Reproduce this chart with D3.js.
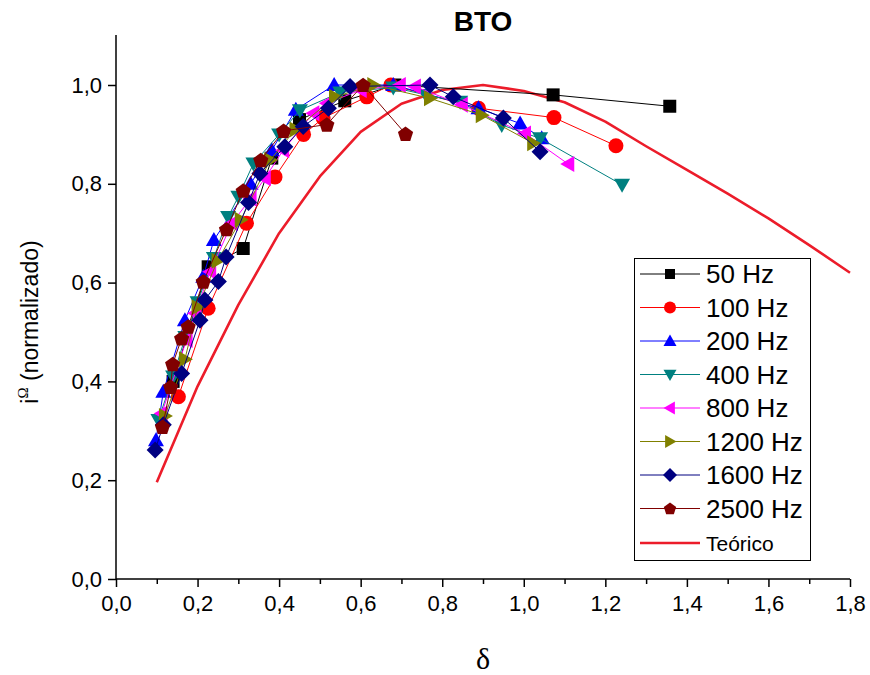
<!DOCTYPE html>
<html>
<head>
<meta charset="utf-8">
<script src="https://cdn.jsdelivr.net/npm/d3@7"></script>
<style>
  body { margin: 0; background: #fff; }
  svg { display: block; }
</style>
</head>
<body>
<svg id="chart" width="870" height="675"></svg>
<script>
// Measured series: [δ, normalised current]
const s50   = [[0.14,0.40],[0.226,0.632],[0.312,0.669],[0.382,0.852],[0.45,0.93],[0.561,0.968],[0.684,1.0],[1.072,0.98],[1.358,0.957]];
const s100  = [[0.153,0.369],[0.226,0.548],[0.32,0.72],[0.39,0.814],[0.46,0.90],[0.508,0.933],[0.615,0.976],[0.674,1.0],[0.889,0.953],[1.074,0.934],[1.226,0.877]];
const s200  = [[0.098,0.281],[0.116,0.379],[0.169,0.524],[0.214,0.612],[0.240,0.686],[0.33,0.80],[0.382,0.868],[0.441,0.950],[0.535,1.0],[0.68,1.0],[0.889,0.953],[0.991,0.922],[1.044,0.892]];
const s400  = [[0.104,0.322],[0.14,0.41],[0.17,0.49],[0.20,0.56],[0.24,0.65],[0.275,0.733],[0.30,0.774],[0.337,0.841],[0.40,0.90],[0.451,0.949],[0.55,0.985],[0.68,0.995],[0.76,0.98],[0.844,0.966],[0.946,0.919],[1.04,0.892],[1.241,0.798]];
const s800  = [[0.112,0.335],[0.173,0.484],[0.194,0.538],[0.231,0.622],[0.284,0.72],[0.33,0.77],[0.365,0.811],[0.41,0.868],[0.484,0.943],[0.517,0.963],[0.60,0.99],[0.696,1.0],[0.733,0.997],[0.848,0.96],[1.003,0.902],[1.109,0.84]];
const s1200 = [[0.12,0.33],[0.169,0.445],[0.20,0.55],[0.249,0.644],[0.306,0.727],[0.378,0.848],[0.44,0.91],[0.537,0.976],[0.631,1.0],[0.77,0.973],[0.897,0.939],[1.023,0.882]];
const s1600 = [[0.096,0.261],[0.116,0.312],[0.161,0.416],[0.206,0.524],[0.218,0.565],[0.251,0.602],[0.270,0.652],[0.325,0.762],[0.353,0.821],[0.414,0.875],[0.459,0.916],[0.521,0.953],[0.574,0.997],[0.77,1.0],[0.827,0.976],[0.95,0.933],[1.04,0.865]];
const s2500 = [[0.114,0.308],[0.134,0.389],[0.139,0.435],[0.161,0.487],[0.177,0.511],[0.214,0.602],[0.271,0.708],[0.312,0.786],[0.355,0.848],[0.411,0.907],[0.517,0.920],[0.606,1.0],[0.71,0.901]];

// Theoretical curve
const teorico = [[0.1,0.196],[0.2,0.39],[0.3,0.555],[0.4,0.70],[0.5,0.815],[0.6,0.905],[0.7,0.962],[0.8,0.99],[0.9,1.0],[1.0,0.988],[1.1,0.965],[1.2,0.926],[1.3,0.876],[1.4,0.828],[1.5,0.78],[1.6,0.73],[1.7,0.676],[1.8,0.62]];

const seriesNames  = ["50 Hz","100 Hz","200 Hz","400 Hz","800 Hz","1200 Hz","1600 Hz","2500 Hz"];
const seriesData   = [s50, s100, s200, s400, s800, s1200, s1600, s2500];
const seriesColors = ["#000000","#ff0000","#0000ff","#008080","#ff00ff","#808000","#000080","#800000"];
const seriesShapes = ["square","circle","triUp","triDown","triLeft","triRight","diamond","pentagon"];

const xTicks = d3.range(0, 1.81, 0.2);
const yTicks = d3.range(0, 1.01, 0.2);

const svg = d3.select("#chart");
const SANS = "Liberation Sans, Arial, sans-serif";

const x = d3.scaleLinear().domain([0, 1.8]).range([116, 850]);
const y = d3.scaleLinear().domain([0, 1.1]).range([579, 35.6]);

const fmt = d => d3.format(".1f")(d).replace(".", ",");

// Marker path generators (size in px)
function markerPath(shape, s) {
  const h = s / 2;
  switch (shape) {
    case "square": return `M${-h},${-h}H${h}V${h}H${-h}Z`;
    case "circle": return d3.arc()({innerRadius:0, outerRadius:h, startAngle:0, endAngle:2*Math.PI});
    case "triUp":    return `M0,${-h}L${h},${h*0.75}L${-h},${h*0.75}Z`;
    case "triDown":  return `M0,${h}L${h},${-h*0.75}L${-h},${-h*0.75}Z`;
    case "triLeft":  return `M${-h},0L${h*0.75},${-h}L${h*0.75},${h}Z`;
    case "triRight": return `M${h},0L${-h*0.75},${-h}L${-h*0.75},${h}Z`;
    case "diamond":  return `M0,${-h}L${h},0L0,${h}L${-h},0Z`;
    case "pentagon": {
      const pts = d3.range(5).map(i => {
        const a = -Math.PI/2 + i * 2 * Math.PI / 5;
        return [h * Math.cos(a), h * Math.sin(a) + h*0.08];
      });
      return "M" + pts.map(p => p.join(",")).join("L") + "Z";
    }
  }
}
const markerSize = {square:13, circle:15, triUp:16, triDown:16, triLeft:16, triRight:16, diamond:17, pentagon:16};

// Axes
const xAxis = d3.axisBottom(x).tickValues(xTicks).tickFormat(fmt).tickSize(8).tickPadding(8);
const xMinor = d3.axisBottom(x).tickValues(d3.range(0.1, 1.8, 0.2)).tickFormat("").tickSize(5);
const yAxis = d3.axisLeft(y).tickValues(yTicks).tickFormat(fmt).tickSize(8).tickPadding(6);

const gx = svg.append("g").attr("transform", "translate(0,579)").call(xAxis);
svg.append("g").attr("transform", "translate(0,579)").call(xMinor).select(".domain").remove();
const gy = svg.append("g").attr("transform", "translate(116,0)").call(yAxis);

[gx, gy].forEach(g => {
  g.select(".domain").attr("stroke", "#000").attr("stroke-width", 1.5);
  g.selectAll(".tick text").attr("font-family", SANS).attr("font-size", 22).attr("fill", "#000");
});
svg.selectAll(".tick line").attr("stroke", "#000").attr("stroke-width", 1.5);
gx.select(".domain").attr("d", "M116,0H850");
gy.select(".domain").attr("d", "M0,579V35");

// Theoretical curve
const line = d3.line().x(d => x(d[0])).y(d => y(d[1]));
svg.append("path").datum(teorico)
  .attr("d", line).attr("fill", "none")
  .attr("stroke", "#ec1c2a").attr("stroke-width", 2.6).attr("stroke-linejoin", "round");

// Data series
seriesData.forEach((data, i) => {
  const g = svg.append("g");
  g.append("path").datum(data).attr("d", line)
    .attr("fill", "none").attr("stroke", seriesColors[i]).attr("stroke-width", 1);
  g.selectAll("path.m").data(data).join("path").attr("class", "m")
    .attr("transform", d => `translate(${x(d[0])},${y(d[1])})`)
    .attr("d", markerPath(seriesShapes[i], markerSize[seriesShapes[i]]))
    .attr("fill", seriesColors[i]);
});

// Title
svg.append("text").attr("x", 483).attr("y", 31).attr("text-anchor", "middle")
  .attr("font-family", SANS).attr("font-weight", "bold")
  .attr("font-size", 28).text("BTO");

// X label
svg.append("text").attr("x", 483).attr("y", 669).attr("text-anchor", "middle")
  .attr("font-family", "Liberation Serif, Times New Roman, serif")
  .attr("font-size", 30).text("δ");

// Y label
const yl = svg.append("text").attr("transform", "translate(38,322) rotate(-90)")
  .attr("text-anchor", "middle")
  .attr("font-family", SANS).attr("font-size", 23);
yl.append("tspan").text("i");
yl.append("tspan").attr("font-family", "Liberation Serif, serif").attr("font-size", 15).attr("dy", -10).text("Ω");
yl.append("tspan").attr("dy", 10).text(" (normalizado)");

// Legend
const lg = svg.append("g");
lg.append("rect").attr("x", 634.5).attr("y", 258.5).attr("width", 176).attr("height", 302)
  .attr("fill", "#fff").attr("stroke", "#000").attr("stroke-width", 1);
const rowY = [274, 307.5, 341, 374.5, 408, 441.5, 475, 508.5];
seriesNames.forEach((name, i) => {
  const yy = rowY[i];
  lg.append("line").attr("x1", 640).attr("x2", 700).attr("y1", yy).attr("y2", yy)
    .attr("stroke", seriesColors[i]).attr("stroke-width", 1);
  lg.append("path").attr("transform", `translate(670,${yy})`)
    .attr("d", markerPath(seriesShapes[i], markerSize[seriesShapes[i]] - 3))
    .attr("fill", seriesColors[i]);
  lg.append("text").attr("x", 706).attr("y", yy + 9)
    .attr("font-family", SANS).attr("font-size", 26)
    .text(name);
});
lg.append("line").attr("x1", 640).attr("x2", 700).attr("y1", 543).attr("y2", 543)
  .attr("stroke", "#ec1c2a").attr("stroke-width", 2.6);
lg.append("text").attr("x", 706).attr("y", 550.5)
  .attr("font-family", SANS).attr("font-size", 21)
  .text("Teórico");
</script>
</body>
</html>
